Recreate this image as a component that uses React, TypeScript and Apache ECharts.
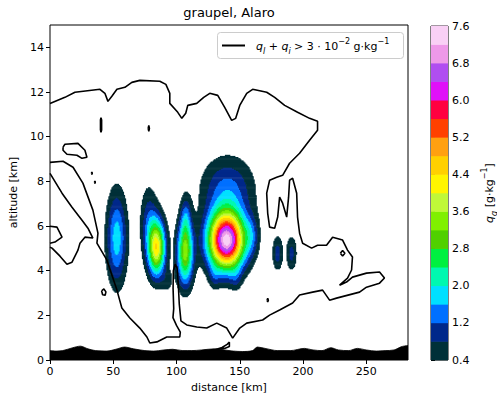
import React, { useEffect, useRef } from 'react';
import * as echarts from 'echarts';

// ---------- axes ----------
const xTicks = [0, 50, 100, 150, 200, 250];
const zTicks = [0, 2, 4, 6, 8, 10, 12, 14];
const cbTicks = [0.4, 1.2, 2.0, 2.8, 3.6, 4.4, 5.2, 6.0, 6.8, 7.6];
const xMax = 283;
const zMax = 15;

// ---------- graupel levels (g/kg) ----------
const levelMin = 0.4;
const levelStep = 0.4;
const levelColors = [
  '#003038', '#00288a', '#0070ff', '#00e0ff', '#00f8b0', '#00f040',
  '#50d000', '#80f000', '#c0f838', '#fff500', '#ffd000', '#ffa010',
  '#ff4000', '#ff0040', '#e010f8', '#b04ef0', '#ee99e8', '#f9d0f5',
];

// graupel cells: [distance km, altitude km, peak g/kg, spread x km, spread z km]
const graupelCells: number[][] = [
  [52.9, 5.46, 1.85, 5.5, 1.39],
  [84.5, 5.05, 4.2, 4.7, 0.85],
  [78.1, 6.17, 1.0, 4.7, 1.12],
  [107.0, 4.83, 3.4, 4.4, 0.98],
  [107.5, 6.44, 0.9, 2.8, 0.67],
  [93.0, 3.5, 0.45, 3.5, 0.4],
  [139.7, 5.37, 7.4, 9.9, 0.89],
  [140.5, 7.65, 1.3, 14.0, 0.98],
  [159.4, 5.59, 0.8, 3.9, 0.63],
  [129.8, 3.75, 0.5, 3.0, 0.4],
  [147.2, 3.7, 0.45, 3.0, 0.4],
  [180.0, 4.78, 1.0, 2.9, 0.54],
  [191.0, 4.78, 0.95, 2.9, 0.54],
];

// ---------- terrain ----------
const terrainX = [0, 5, 10, 18, 24, 30, 36, 45, 52, 59, 66, 75, 82, 90, 97, 105, 112, 120, 130, 138, 145, 152, 160, 164, 170, 180, 190, 201, 208, 215, 222, 228, 236, 243, 250, 258, 265, 272, 278, 283];
const terrainZ = [0.42, 0.4, 0.42, 0.55, 0.62, 0.5, 0.42, 0.4, 0.48, 0.58, 0.5, 0.42, 0.4, 0.45, 0.48, 0.42, 0.42, 0.45, 0.5, 0.45, 0.4, 0.38, 0.42, 0.58, 0.52, 0.42, 0.42, 0.52, 0.45, 0.42, 0.55, 0.45, 0.42, 0.52, 0.45, 0.4, 0.42, 0.45, 0.6, 0.65];

// ---------- q_l + q_i contour lines (km, km) ----------
const contourMain: number[][] = [
  [0, 11.49], [11.8, 11.76], [19.7, 11.99], [39.5, 12.12], [43.4, 11.94], [45.8, 11.58], [48.9, 11.81], [52.9, 12.12], [59.2, 12.21], [64.7, 12.43], [71.0, 12.52], [86.8, 12.48], [91.6, 12.34], [94.7, 11.94], [94.7, 11.49], [101.0, 11.09], [104.2, 10.82], [107.3, 11.05], [108.9, 11.4], [116.0, 11.49], [121.5, 11.76], [126.3, 11.94], [132.6, 11.85], [138.1, 11.31], [143.6, 10.73], [146.8, 10.82], [150.0, 11.4], [155.5, 11.94], [160.2, 12.12], [171.3, 11.99], [177.6, 11.76], [185.5, 11.4], [195.7, 11.09], [205.2, 10.82], [211.5, 10.69], [211.5, 10.29], [205.2, 9.84], [197.3, 9.26], [189.4, 8.81], [183.9, 8.27], [179.2, 8.18], [173.6, 8.05], [171.3, 7.47], [172.1, 6.57], [173.6, 5.95], [177.6, 5.9], [180.0, 6.4], [181.5, 7.29], [183.9, 7.02], [187.1, 6.4], [188.6, 7.29], [189.4, 8.05], [191.8, 8.14], [195.0, 7.47], [195.7, 6.4], [197.3, 5.68], [199.7, 5.23], [206.8, 5.01], [211.5, 5.14], [218.6, 5.14], [223.4, 5.5], [231.3, 5.37], [235.2, 4.92], [239.1, 4.61], [238.4, 4.03], [235.2, 3.67], [228.9, 3.35], [234.4, 3.49], [239.1, 3.71], [250.2, 3.89], [260.5, 3.94], [264.4, 3.67], [260.5, 3.44], [250.2, 3.26], [244.7, 3.04], [226.5, 2.77], [221.0, 2.68], [215.5, 3.13], [207.6, 3.04], [197.3, 2.91], [191.8, 2.55], [181.5, 2.24], [173.6, 2.01], [168.1, 1.79], [155.5, 1.65], [150.0, 1.43], [144.4, 0.98], [139.7, 1.43], [131.8, 1.65], [123.9, 1.43], [116.0, 1.48], [108.1, 1.57], [103.5, 1.75], [102.2, 2.5], [101.5, 3.3], [100.5, 4.1], [99.0, 4.3], [97.5, 4.0], [97.3, 3.2], [97.8, 2.3], [97.2, 1.9], [100.0, 1.55], [103.0, 1.25], [102.6, 1.03], [92.3, 1.03], [84.5, 0.81], [78.9, 0.76], [76.6, 1.03], [71.0, 1.43], [63.1, 1.88], [56.8, 2.33], [52.9, 3.13], [45.0, 4.47], [37.1, 5.23], [37.9, 5.68], [33.9, 6.71], [26.0, 7.92], [18.2, 8.63], [10.3, 8.9], [0, 8.85],
];
const contourLeftB: number[][] = [
  [0, 8.36], [9.5, 7.47], [17.4, 6.84], [25.3, 6.26], [30.0, 5.9], [33.9, 5.46], [27.6, 5.5], [23.7, 5.23], [22.1, 4.92], [17.4, 4.38], [13.4, 4.29], [7.9, 4.65], [1.6, 5.01], [0, 5.05],
];
const contourLeftC: number[][] = [
  [0, 5.99], [5.5, 5.95], [9.5, 5.5], [3.9, 5.28], [0, 5.23],
];
const loopTopLeft: number[][] = [
  [10.3, 9.53], [11.8, 9.66], [22.1, 9.7], [27.6, 9.39], [29.2, 9.08], [25.3, 9.03], [21.3, 9.17], [13.4, 9.21], [10.3, 9.39], [10.3, 9.53],
];
const loopDash: number[][] = [
  [39.9, 10.3], [39.9, 10.75], [40.3, 10.85], [40.8, 10.75], [40.8, 10.3], [40.3, 10.2], [39.9, 10.3],
];
const loopDot1: number[][] = [[77.6, 10.37], [78.1, 10.5], [78.6, 10.37], [78.1, 10.24], [77.6, 10.37]];
const loopDot2: number[][] = [[32.8, 8.36], [33.1, 8.42], [33.4, 8.36], [33.1, 8.3], [32.8, 8.36]];
const loopDot3: number[][] = [[35.2, 7.96], [35.5, 8.02], [35.8, 7.96], [35.5, 7.9], [35.2, 7.96]];
const loopLow: number[][] = [[40.8, 3.1], [42.6, 3.18], [44.2, 3.05], [43.6, 2.9], [41.6, 2.92], [40.8, 3.1]];
const loopDot4: number[][] = [[171.6, 2.68], [172.1, 2.76], [172.6, 2.68], [172.1, 2.6], [171.6, 2.68]];
const loopBay: number[][] = [[229.5, 4.78], [231.3, 4.9], [233.1, 4.78], [231.3, 4.66], [229.5, 4.78]];
const loopSliver: number[][] = [[131, 0.47], [136, 0.56], [140, 0.7], [141.8, 0.8], [141.8, 0.6], [138, 0.52], [131, 0.47]];
const contours = [contourMain, contourLeftB, contourLeftC, loopTopLeft, loopDash, loopDot1, loopDot2, loopDot3, loopLow, loopDot4, loopBay, loopSliver];

// ---------- build graupel field as horizontal runs of equal level ----------
const dx = 0.8;
const dz = 0.05;
function graupel(x: number, z: number): number {
  let v = 0;
  for (const c of graupelCells) {
    const u = (x - c[0]) / c[3];
    const w = (z - c[1]) / c[4];
    v += c[2] * Math.exp(-0.5 * (u * u + w * w));
  }
  return v;
}
function buildRuns(): number[][] {
  const runs: number[][] = [];
  const nx = Math.round((205 - 30) / dx);
  const nz = Math.round((10 - 1.5) / dz);
  for (let j = 0; j <= nz; j++) {
    const z = 1.5 + j * dz;
    let cur = -1;
    let start = 0;
    for (let i = 0; i <= nx + 1; i++) {
      const x = 30 + i * dx;
      let bin = -1;
      if (i <= nx) {
        const v = graupel(x, z);
        if (v >= levelMin) bin = Math.min(levelColors.length - 1, Math.floor((v - levelMin) / levelStep));
      }
      if (bin !== cur) {
        if (cur >= 0) runs.push([start - dx / 2, x - dx / 2, z, cur]);
        cur = bin;
        start = x;
      }
    }
  }
  return runs;
}

const font = 'DejaVu Sans';

export default function App() {
  const ref = useRef<HTMLDivElement>(null);
  useEffect(() => {
    if (!ref.current) return;
    const chart = echarts.init(ref.current, null, { renderer: 'svg' });
    const runs = buildRuns();
    const cbData = levelColors.map((_, i) => [levelMin + i * levelStep, levelMin + (i + 1) * levelStep, i]);

    const lineSeries = contours.map((c) => ({
      type: 'line',
      data: c,
      xAxisIndex: 0,
      yAxisIndex: 0,
      symbol: 'none',
      silent: true,
      clip: true,
      z: 3,
      lineStyle: { color: '#000', width: 1.6 },
    }));

    const option: any = {
      animation: false,
      textStyle: { fontFamily: font },
      grid: [
        { left: 50, top: 25, width: 358, height: 335, show: true, borderColor: '#000', borderWidth: 1, backgroundColor: 'transparent', outerBoundsMode: 'none' },
        { left: 431, top: 26, width: 17, height: 334, show: true, borderColor: '#000', borderWidth: 1, backgroundColor: 'transparent', outerBoundsMode: 'none' },
      ],
      xAxis: [
        {
          type: 'value', gridIndex: 0, min: 0, max: xMax,
          axisLine: { show: false },
          axisTick: { show: true, length: 4, lineStyle: { color: '#000', width: 1 }, customValues: xTicks },
          axisLabel: { color: '#000', fontSize: 11, margin: 6, customValues: xTicks, fontFamily: font },
          splitLine: { show: false },
          name: 'distance [km]', nameLocation: 'middle', nameGap: 16,
          nameTextStyle: { color: '#000', fontSize: 11, fontFamily: font },
        },
        { type: 'value', gridIndex: 1, min: 0, max: 1, show: false },
      ],
      yAxis: [
        {
          type: 'value', gridIndex: 0, min: 0, max: zMax,
          axisLine: { show: false },
          axisTick: { show: true, length: 4, lineStyle: { color: '#000', width: 1 }, customValues: zTicks },
          axisLabel: { color: '#000', fontSize: 11, margin: 6, customValues: zTicks, fontFamily: font },
          splitLine: { show: false },
          name: 'altitude [km]', nameLocation: 'middle', nameGap: 24, nameRotate: 90,
          nameTextStyle: { color: '#000', fontSize: 11, fontFamily: font },
        },
        {
          type: 'value', gridIndex: 1, min: 0.4, max: 7.6, position: 'right',
          axisLine: { show: false },
          axisTick: { show: true, length: 4, lineStyle: { color: '#000', width: 1 }, customValues: cbTicks },
          axisLabel: { color: '#000', fontSize: 11, margin: 4, customValues: cbTicks, fontFamily: font, formatter: (v: number) => v.toFixed(1) },
          splitLine: { show: false },
        },
      ],
      series: [
        {
          type: 'custom',
          xAxisIndex: 0, yAxisIndex: 0,
          data: runs,
          encode: { x: [0, 1], y: 2 },
          clip: true,
          silent: true,
          z: 2,
          renderItem: (_p: any, api: any) => {
            const a = api.coord([api.value(0), api.value(2) + dz / 2]);
            const b = api.coord([api.value(1), api.value(2) - dz / 2]);
            return {
              type: 'rect',
              shape: { x: a[0] - 0.2, y: a[1] - 0.3, width: b[0] - a[0] + 0.4, height: b[1] - a[1] + 0.6 },
              style: { fill: levelColors[api.value(3)] },
            };
          },
        },
        ...lineSeries,
        {
          type: 'line',
          data: terrainX.map((x, i) => [x, terrainZ[i]]),
          xAxisIndex: 0, yAxisIndex: 0,
          symbol: 'none', silent: true, clip: true, z: 4,
          smooth: 0.3,
          lineStyle: { color: '#000', width: 0.8 },
          areaStyle: { color: '#000', opacity: 1, origin: 'start' },
        },
        {
          type: 'custom',
          xAxisIndex: 1, yAxisIndex: 1,
          data: cbData,
          silent: true,
          renderItem: (_p: any, api: any) => {
            const a = api.coord([0, api.value(1)]);
            const b = api.coord([1, api.value(0)]);
            return {
              type: 'rect',
              shape: { x: a[0], y: a[1] - 0.3, width: b[0] - a[0], height: b[1] - a[1] + 0.6 },
              style: { fill: levelColors[api.value(2)] },
            };
          },
        },
      ],
      graphic: [
        {
          type: 'text', x: 229, y: 12, silent: true,
          style: { text: 'graupel, Alaro', fontSize: 13, fontFamily: font, fill: '#000', align: 'center', verticalAlign: 'middle' },
        },
        {
          type: 'rect', z: 10, silent: true,
          shape: { x: 217.5, y: 32.5, width: 186, height: 26, r: 3 },
          style: { fill: 'rgba(255,255,255,0.8)', stroke: '#cccccc', lineWidth: 1 },
        },
        {
          type: 'line', z: 11, silent: true,
          shape: { x1: 222, y1: 45.5, x2: 245, y2: 45.5 },
          style: { stroke: '#000', lineWidth: 2 },
        },
        {
          type: 'text', z: 11, x: 256, y: 46, silent: true,
          style: {
            text: '{q|q}{s|l}{n| + }{q|q}{s|i}{n| > 3 · 10}{p|−2}{n| g·kg}{p|−1}',
            align: 'left', verticalAlign: 'middle',
            rich: {
              q: { fontFamily: font, fontStyle: 'italic', fontSize: 11, fill: '#000', lineHeight: 18, verticalAlign: 'middle' },
              n: { fontFamily: font, fontSize: 11, fill: '#000', lineHeight: 18, verticalAlign: 'middle' },
              s: { fontFamily: font, fontStyle: 'italic', fontSize: 8, fill: '#000', lineHeight: 9, verticalAlign: 'bottom' },
              p: { fontFamily: font, fontSize: 8, fill: '#000', lineHeight: 9, verticalAlign: 'top' },
            },
          },
        },
        {
          type: 'text', x: 489, y: 193, rotation: Math.PI / 2, silent: true,
          style: {
            text: '{q|q}{s|g}{n| [g·kg}{p|−1}{n|]}',
            align: 'center', verticalAlign: 'middle',
            rich: {
              q: { fontFamily: font, fontStyle: 'italic', fontSize: 11, fill: '#000', lineHeight: 18, verticalAlign: 'middle' },
              n: { fontFamily: font, fontSize: 11, fill: '#000', lineHeight: 18, verticalAlign: 'middle' },
              s: { fontFamily: font, fontStyle: 'italic', fontSize: 8, fill: '#000', lineHeight: 9, verticalAlign: 'bottom' },
              p: { fontFamily: font, fontSize: 8, fill: '#000', lineHeight: 9, verticalAlign: 'top' },
            },
          },
        },
      ],
    };
    chart.setOption(option);
    return () => chart.dispose();
  }, []);
  return <div ref={ref} style={{ position: 'fixed', left: 0, top: 0, width: 497, height: 398, background: '#fff' }} />;
}
